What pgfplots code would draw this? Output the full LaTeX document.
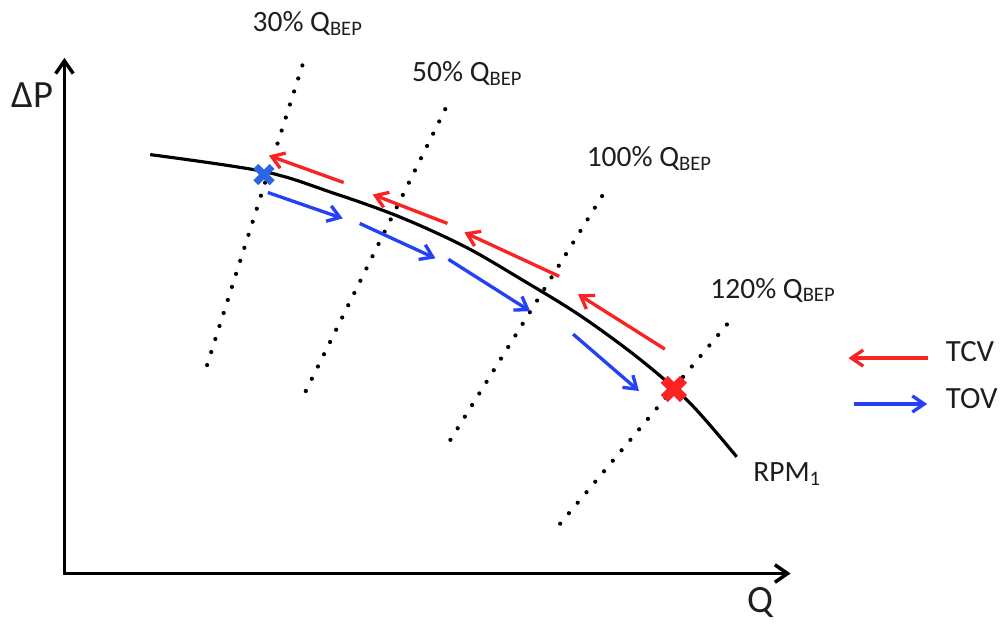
\documentclass[border=0pt]{standalone}
\usepackage{fontspec}
\setmainfont{Carlito}
\usepackage{pgfplots}
\pgfplotsset{compat=1.18}
\usetikzlibrary{arrows.meta}
\definecolor{tcv}{RGB}{250,35,35}
\definecolor{tov}{RGB}{35,65,245}
\definecolor{xblue}{RGB}{45,100,225}
\definecolor{txt}{RGB}{30,30,30}
\begin{document}
\begin{tikzpicture}
\begin{axis}[
  width=10.04cm, height=6.23cm, scale only axis,
  xmin=0, xmax=1004, ymin=0, ymax=623, y dir=reverse,
  hide axis, clip=false,
]
% invisible frame for bounding box
\addplot[draw=none] coordinates {(0,0) (1004,623)};
% axes
\addplot[black, line width=1pt, -{Straight Barb[length=3.6pt,width=5pt]}] coordinates {(62,576) (62,58)};
\addplot[black, line width=1pt, -{Straight Barb[length=3.6pt,width=5pt]}] coordinates {(61,575) (790,575)};
% dotted flow lines
\tikzset{dotline/.style={black, line width=1.2pt, line cap=round, dash pattern=on 0pt off 3.9pt}}
\addplot[dotline] coordinates {(205,366) (302,61)};
\addplot[dotline] coordinates {(304,392) (446,105)};
\addplot[dotline] coordinates {(449,441) (607,187)};
\addplot[dotline] coordinates {(559,525) (729,322)};
% pump curve
\addplot[black, line width=0.9pt, smooth, tension=0.55] coordinates {
 (148,155) (262,172) (330,193) (397,217) (463,247) (520,280) (580,317) (640,361) (690,405) (736,458)};
% TCV arrows
\tikzset{arr/.style={line width=0.95pt, -{Straight Barb[length=3.4pt,width=4.6pt]}}}
\addplot[tcv, arr] coordinates {(342,183) (267,156)};
\addplot[tcv, arr] coordinates {(446,224) (371,195)};
\addplot[tcv, arr] coordinates {(558,277) (463,233)};
\addplot[tcv, arr] coordinates {(664,350) (577,295)};
\addplot[tcv, arr] coordinates {(928,359) (848,359)};
% TOV arrows
\addplot[tov, arr] coordinates {(266,193) (341,219)};
\addplot[tov, arr] coordinates {(358,224) (434,259)};
\addplot[tov, arr] coordinates {(447,260) (529,312)};
\addplot[tov, arr] coordinates {(572,335) (638,392)};
\addplot[tov, arr] coordinates {(854,405) (927,405)};
% X marks
\addplot[only marks, mark=x, mark size=3.3pt, mark options={xblue, line width=2pt}] coordinates {(262,175)};
\addplot[only marks, mark=x, mark size=3.9pt, mark options={tcv, line width=2.8pt}] coordinates {(673,390)};
% labels
\node[txt, font=\fontsize{11pt}{13pt}\selectfont, anchor=center] at (axis cs:30,95) {ΔP};
\node[txt, font=\fontsize{11pt}{13pt}\selectfont, anchor=center] at (axis cs:760,604) {Q};
\tikzset{lab/.style={txt, font=\fontsize{8.4pt}{10pt}\selectfont, anchor=base west, inner sep=0pt}}
\node[lab] at (axis cs:250,32) {30\% Q\textsubscript{BEP}};
\node[lab] at (axis cs:410,82) {50\% Q\textsubscript{BEP}};
\node[lab] at (axis cs:585,167) {100\% Q\textsubscript{BEP}};
\node[lab] at (axis cs:709,299) {120\% Q\textsubscript{BEP}};
\node[lab] at (axis cs:752,483) {RPM\textsubscript{1}};
\node[lab, font=\fontsize{8.8pt}{10pt}\selectfont] at (axis cs:945,362) {TCV};
\node[lab, font=\fontsize{8.8pt}{10pt}\selectfont] at (axis cs:945,410) {TOV};
\end{axis}
\end{tikzpicture}
\end{document}
